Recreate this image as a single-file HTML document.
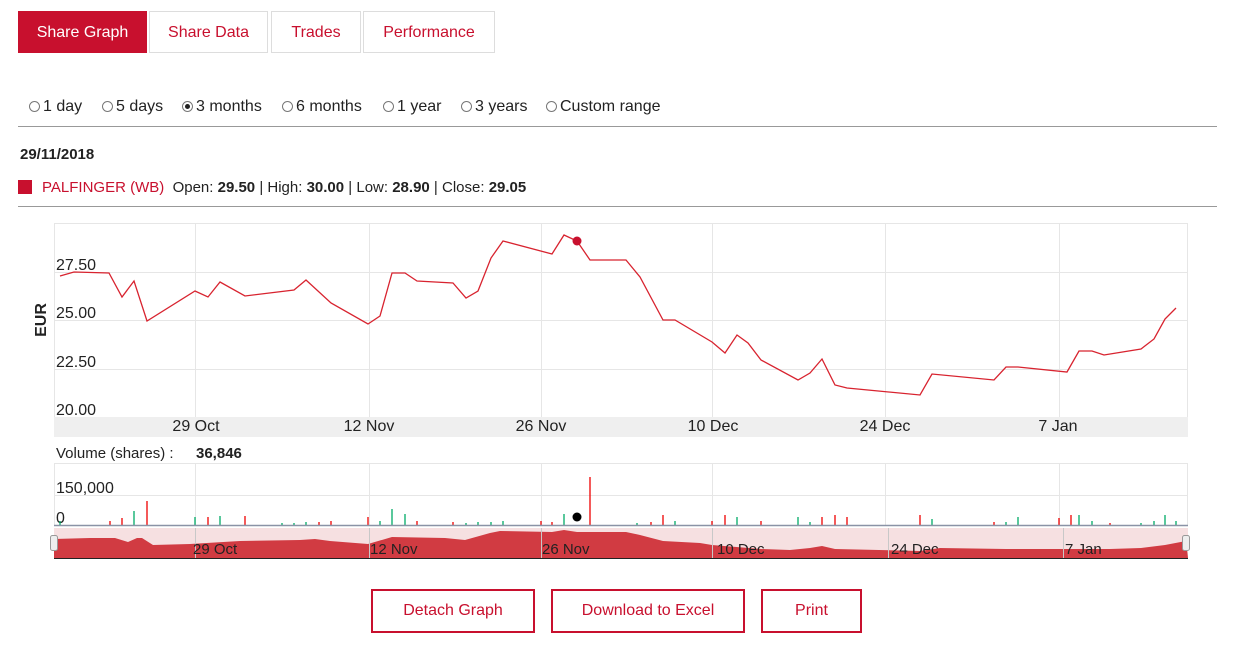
<!DOCTYPE html>
<html><head><meta charset="utf-8"><style>
body{margin:0;width:1243px;height:652px;background:#fff;font-family:"Liberation Sans",sans-serif;position:relative;overflow:hidden}
.tab{position:absolute;top:11px;height:42px;border:1px solid #ddd;color:#c8102e;font-size:16px;line-height:42px;text-align:center;box-sizing:border-box}
.btn{position:absolute;top:589px;height:44px;border:2px solid #c8102e;color:#c8102e;font-size:16px;line-height:40px;text-align:center;box-sizing:border-box}
.r{position:absolute;top:98px;font-size:16px;color:#222}
.r i{display:inline-block;width:11px;height:11px;border:1px solid #777;border-radius:50%;vertical-align:-1px;margin-right:3px;box-sizing:border-box;position:relative}
</style></head><body>
<div class="tab" style="left:18px;width:129px;background:#c8102e;color:#fff;border-color:#c8102e">Share Graph</div>
<div class="tab" style="left:149px;width:119px">Share Data</div>
<div class="tab" style="left:271px;width:90px">Trades</div>
<div class="tab" style="left:363px;width:132px">Performance</div>
<div class="r" style="left:29px"><i></i>1 day</div>
<div class="r" style="left:102px"><i></i>5 days</div>
<div class="r" style="left:182px"><i><b style="position:absolute;left:2px;top:2px;width:5px;height:5px;border-radius:50%;background:#222"></b></i>3 months</div>
<div class="r" style="left:282px"><i></i>6 months</div>
<div class="r" style="left:383px"><i></i>1 year</div>
<div class="r" style="left:461px"><i></i>3 years</div>
<div class="r" style="left:546px"><i></i>Custom range</div>
<div style="position:absolute;left:18px;top:126px;width:1199px;border-top:1px solid #999"></div>
<div style="position:absolute;left:20px;top:146px;font-size:15px;font-weight:bold;color:#222">29/11/2018</div>
<div style="position:absolute;left:18px;top:180px;width:14px;height:14px;background:#c8102e"></div>
<div style="position:absolute;left:42px;top:179px;font-size:15px;color:#222"><span style="color:#c8102e">PALFINGER (WB)</span>&nbsp; Open: <b>29.50</b> | High: <b>30.00</b> | Low: <b>28.90</b> | Close: <b>29.05</b></div>
<div style="position:absolute;left:18px;top:206px;width:1199px;border-top:1px solid #999"></div>
<svg style="position:absolute;left:0;top:0" width="1243" height="652">
<g stroke="#e6e6e6" stroke-width="1" fill="none">
<rect x="54.5" y="223.5" width="1133" height="194"/>
<line x1="54" y1="272.5" x2="1188" y2="272.5"/><line x1="54" y1="320.5" x2="1188" y2="320.5"/><line x1="54" y1="369.5" x2="1188" y2="369.5"/>
<line x1="195.5" y1="223" x2="195.5" y2="417"/><line x1="369.5" y1="223" x2="369.5" y2="417"/><line x1="541.5" y1="223" x2="541.5" y2="417"/><line x1="712.5" y1="223" x2="712.5" y2="417"/><line x1="885.5" y1="223" x2="885.5" y2="417"/><line x1="1059.5" y1="223" x2="1059.5" y2="417"/>
<rect x="54.5" y="463.5" width="1133" height="62"/>
<line x1="54" y1="495.5" x2="1188" y2="495.5"/>
<line x1="195.5" y1="463" x2="195.5" y2="525"/><line x1="369.5" y1="463" x2="369.5" y2="525"/><line x1="541.5" y1="463" x2="541.5" y2="525"/><line x1="712.5" y1="463" x2="712.5" y2="525"/><line x1="885.5" y1="463" x2="885.5" y2="525"/><line x1="1059.5" y1="463" x2="1059.5" y2="525"/>
</g>
<rect x="54" y="417" width="1134" height="20" fill="#efefef"/>
<g font-size="16" fill="#222" font-family="Liberation Sans,sans-serif">
<text x="56" y="270">27.50</text><text x="56" y="318">25.00</text><text x="56" y="367">22.50</text><text x="56" y="415">20.00</text>
<g text-anchor="middle"><text x="196" y="431">29 Oct</text><text x="369" y="431">12 Nov</text><text x="541" y="431">26 Nov</text><text x="713" y="431">10 Dec</text><text x="885" y="431">24 Dec</text><text x="1058" y="431">7 Jan</text></g>
<text x="46" y="320" font-weight="bold" transform="rotate(-90 46 320)" text-anchor="middle">EUR</text>
<text x="56" y="458" font-size="15">Volume (shares) :</text><text x="196" y="458" font-size="15" font-weight="bold">36,846</text>
<text x="56" y="493">150,000</text><text x="56" y="523">0</text>
</g>
<polyline fill="none" stroke="#d8232f" stroke-width="1.3" points="60,276 74,272 109,273 122,297 134,281 147,321 195,291 208,297 220,282 245,296 294,290 306,280 331,303 368,324 380,316 392,273 405,273 417,281 453,283 466,298 478,291 491,258 503,241 552,254 564,235 577,241 590,260 626,260 640,277 663,320 675,320 712,342 725,353 737,335 748,343 761,360 798,380 810,373 822,359 835,385 847,388 920,395 932,374 994,380 1006,367 1018,367 1067,372 1079,351 1092,351 1104,355 1141,349 1154,339 1165,319 1176,308"/>
<circle cx="577" cy="241" r="4.5" fill="#c8102e"/>
<g stroke-width="1.3">
<g stroke="#e00">
<path d="M110 525v-4M122 525v-7M147 525v-24M208 525v-8M245 525v-9M319 525v-3M331 525v-4M368 525v-8M417 525v-4M453 525v-3M541 525v-4M552 525v-3M590 525v-48M651 525v-3M663 525v-10M712 525v-4M725 525v-10M761 525v-4M822 525v-8M835 525v-10M847 525v-8M920 525v-10M994 525v-3M1059 525v-7M1071 525v-10M1110 525v-2"/>
</g>
<g stroke="#0a6">
<path d="M60 525v-4M134 525v-14M195 525v-8M220 525v-9M282 525v-2M294 525v-2M306 525v-3M380 525v-4M392 525v-16M405 525v-11M466 525v-2M478 525v-3M491 525v-3M503 525v-4M564 525v-11M637 525v-2M675 525v-4M737 525v-8M798 525v-8M810 525v-3M932 525v-6M1006 525v-3M1018 525v-8M1079 525v-10M1092 525v-4M1141 525v-2M1154 525v-4M1165 525v-10M1176 525v-4"/>
</g>
</g>
<circle cx="577" cy="517" r="4.5" fill="#000"/>
<line x1="54" y1="525.5" x2="1188" y2="525.5" stroke="#8a93a6" stroke-width="1.5"/>
<rect x="54" y="528" width="1134" height="30" fill="#f6e0e1"/>
<path d="M54 539 L90 538 L115 538 L128 542 L137 538 L142 538 L153 545 L190 544 L240 541 L300 540 L315 539 L330 541 L368 544 L392 537 L445 538 L465 540 L490 533 L500 531 L552 532 L564 530 L577 532 L626 532 L640 535 L663 541 L700 543 L712 545 L761 549 L790 550 L810 548 L822 546 L835 549 L920 551 L940 548 L1006 549 L1067 549 L1110 549 L1141 548 L1165 545 L1186 541 L1188 558 L54 558 Z" fill="#d13b42"/>
<g stroke="#c8c8c8"><line x1="195.5" y1="528" x2="195.5" y2="558"/><line x1="369.5" y1="528" x2="369.5" y2="558"/><line x1="541.5" y1="528" x2="541.5" y2="558"/><line x1="712.5" y1="528" x2="712.5" y2="558"/><line x1="888.5" y1="528" x2="888.5" y2="558"/><line x1="1063.5" y1="528" x2="1063.5" y2="558"/></g>
<line x1="54" y1="558.5" x2="1188" y2="558.5" stroke="#222"/>
<g font-size="15" fill="#222" font-family="Liberation Sans,sans-serif"><text x="193" y="554">29 Oct</text><text x="370" y="554">12 Nov</text><text x="542" y="554">26 Nov</text><text x="717" y="554">10 Dec</text><text x="891" y="554">24 Dec</text><text x="1065" y="554">7 Jan</text></g>
<rect x="50.5" y="535.5" width="7" height="15" rx="2" fill="#eee" stroke="#999"/>
<rect x="1182.5" y="535.5" width="7" height="15" rx="2" fill="#eee" stroke="#999"/>
</svg>
<div class="btn" style="left:371px;width:164px">Detach Graph</div>
<div class="btn" style="left:551px;width:194px">Download to Excel</div>
<div class="btn" style="left:761px;width:101px">Print</div>
</body></html>
